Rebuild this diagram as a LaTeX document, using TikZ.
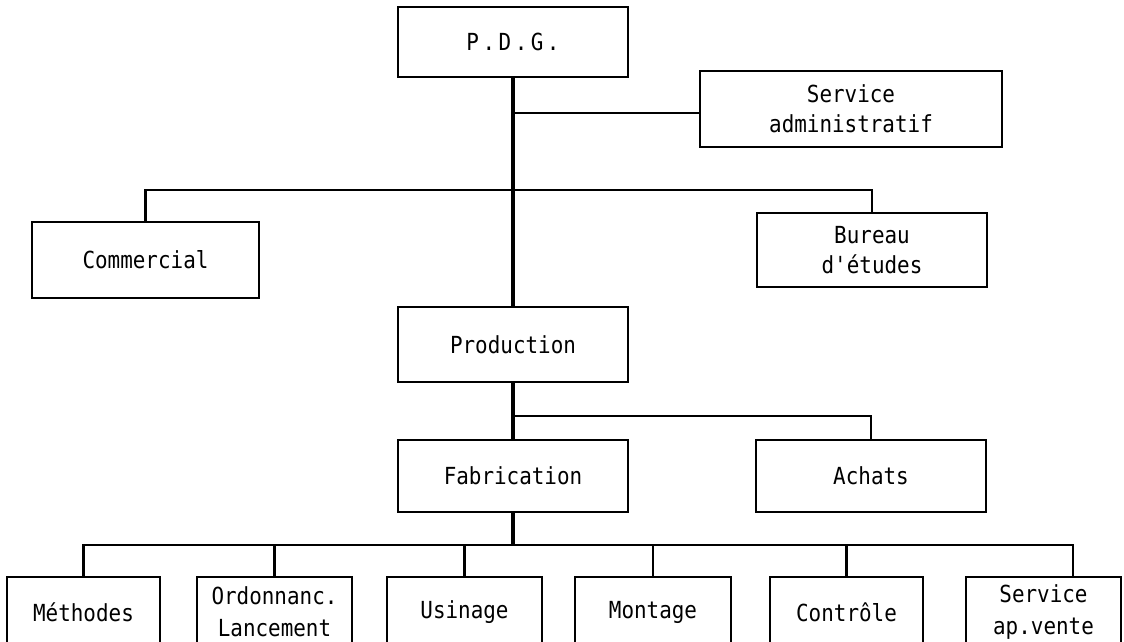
\documentclass[tikz,border=0pt]{standalone}
\usepackage{fontspec}
\newfontfamily\orgfont{DejaVu Sans Mono}[FakeStretch=0.89]
\begin{document}
\begin{tikzpicture}[x=1pt,y=-1pt,
  box/.style={draw=black, line width=2.8pt, inner sep=0pt, align=center,
    font=\orgfont\fontsize{23.5}{30}\selectfont},
  lowbox/.style={box, minimum height=70pt,
    font=\orgfont\fontsize{23.5}{32}\selectfont},
  link/.style={line width=2.5pt, line cap=rect},
  spine/.style={line width=3.2pt}]
\useasboundingbox (0,0) rectangle (1124,642);
\fill[white] (0,0) rectangle (1124,642);

% management level
\node[box, minimum width=230pt, minimum height=70pt] (pdg) at (513,42)
  {\addfontfeature{LetterSpace=15}P.D.G.};
\node[box, minimum width=302pt, minimum height=76pt] (sa) at (851,109)
  {Service\\administratif};
\node[box, minimum width=227pt, minimum height=76pt] (com) at (145.5,260)
  {Commercial};
\node[box, minimum width=230pt, minimum height=74pt] (be) at (872,250)
  {Bureau\\d'études};

% production level
\node[box, minimum width=230pt, minimum height=75pt] (prod) at (513,344.5)
  {Production};
\node[box, minimum width=230pt, minimum height=72pt] (fab) at (513,476)
  {Fabrication};
\node[box, minimum width=230pt, minimum height=72pt] (ach) at (871,476)
  {Achats};

% workshop level
\node[lowbox, minimum width=153pt] (met) at (83.5,612) {Méthodes};
\node[lowbox, minimum width=155pt] (ord) at (274.5,612) {Ordonnanc.\\Lancement};
\node[lowbox, minimum width=155pt] (usi) at (464.5,612) {Usinage};
\node[lowbox, minimum width=156pt] (mon) at (653,612) {Montage};
\node[lowbox, minimum width=153pt] (con) at (846.5,612) {Contrôle};
\node[lowbox, minimum width=155pt] (sav) at (1043.5,612) {Service\\ap.vente};

% junction points
\coordinate (j1) at (513,113);
\coordinate (b1) at (513,190);
\coordinate (b2) at (513,416);
\coordinate (b3) at (513,545);
\coordinate (savtop) at ([xshift=29.5pt]sav.north);

% connectors
\draw[spine] (pdg.south) -- (prod.north);
\draw[link] (j1) -- (j1 -| sa.west);
\draw[link] (com.north) |- (b1) -| (be.north);
\draw[spine] (prod.south) -- (fab.north);
\draw[link] (b2) -| (ach.north);
\draw[spine] (fab.south) -- (b3);
\draw[link] (met.north) |- (b3) -| (savtop);
\foreach \n in {ord,usi,mon,con}
  \draw[link] (\n.north) -- (\n.north |- b3);
\end{tikzpicture}
\end{document}
